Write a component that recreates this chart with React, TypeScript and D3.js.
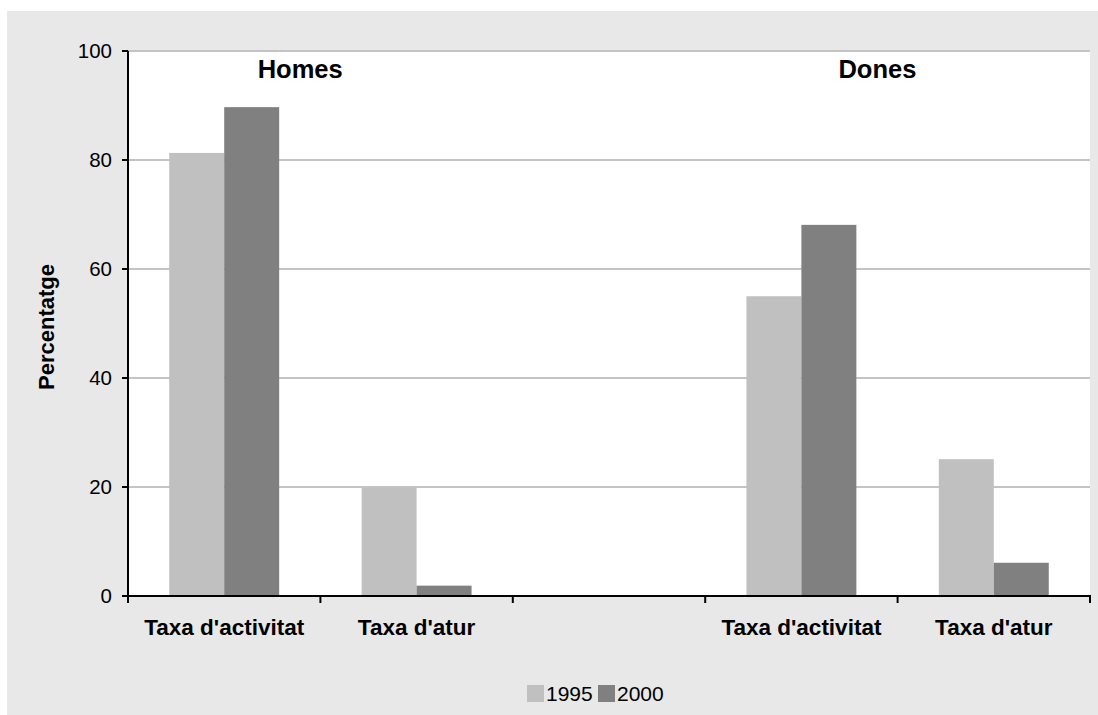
import React from "react";
import * as d3 from "d3";

const categoryKeys = ["h-act", "h-atur", "gap", "d-act", "d-atur"];
const categoryLabels = ["Taxa d'activitat", "Taxa d'atur", "", "Taxa d'activitat", "Taxa d'atur"];
const seriesNames = ["1995", "2000"];
const values1995 = [81.3, 19.9, null, 55.0, 25.1];
const values2000 = [89.7, 1.9, null, 68.1, 6.1];
const seriesColors = ["#c0c0c0", "#808080"];
const yTicks = [0, 20, 40, 60, 80, 100];
const groupLabels = [
  { text: "Homes", category: "h-act" },
  { text: "Dones", category: "d-act" },
];

const W = 1098;
const H = 715;
const plot = { left: 128, right: 1090, top: 51, bottom: 596 };
const FONT = "'Liberation Sans', Arial, sans-serif";

export default function App() {
  const x = d3.scaleBand<string>().domain(categoryKeys).range([plot.left, plot.right]).padding(0);
  const xs = d3.scaleBand<string>().domain(seriesNames).range([0, x.step()]).paddingInner(0).paddingOuter(0.75);
  const y = d3.scaleLinear().domain([0, 100]).range([plot.bottom, plot.top]);
  const series = [values1995, values2000];
  const tickEdges = categoryKeys.map((k) => x(k) as number).concat([plot.right]);

  return (
    <div style={{ position: "absolute", left: 0, top: 0 }}>
      <svg width={W} height={H} style={{ display: "block" }} fontFamily={FONT}>
        <rect x={7} y={11} width={W - 7} height={H - 11} fill="#e8e8e8" />
        <rect x={plot.left} y={plot.top} width={plot.right - plot.left} height={plot.bottom - plot.top} fill="#ffffff" />
        {yTicks.filter((t) => t > 0).map((t) => (
          <line key={"g" + t} x1={plot.left} x2={plot.right} y1={y(t)} y2={y(t)} stroke="#c4c4c4" strokeWidth={2} />
        ))}
        {series.map((vals, si) =>
          vals.map((v, ci) =>
            v == null ? null : (
              <rect
                key={si + "-" + ci}
                x={(x(categoryKeys[ci]) as number) + (xs(seriesNames[si]) as number)}
                y={y(v)}
                width={xs.bandwidth()}
                height={y(0) - y(v)}
                fill={seriesColors[si]}
              />
            )
          )
        )}
        {/* y axis */}
        <line x1={plot.left} x2={plot.left} y1={plot.top} y2={plot.bottom + 1} stroke="#000" strokeWidth={2} />
        {yTicks.map((t) => (
          <g key={"t" + t}>
            <line x1={plot.left - 6} x2={plot.left} y1={y(t)} y2={y(t)} stroke="#000" strokeWidth={2} />
            <text x={plot.left - 16} y={y(t)} dy="0.36em" textAnchor="end" fontSize={20.5} fill="#000">
              {t}
            </text>
          </g>
        ))}
        {/* x axis */}
        <line x1={plot.left - 6} x2={plot.right + 1} y1={y(0)} y2={y(0)} stroke="#000" strokeWidth={2} />
        {tickEdges.map((e, i) => (
          <line key={"xt" + i} x1={e} x2={e} y1={y(0)} y2={y(0) + 7} stroke="#000" strokeWidth={2} />
        ))}
        {categoryKeys.map((k, i) => (
          <text key={"xl" + k} x={(x(k) as number) + x.bandwidth() / 2} y={635} textAnchor="middle" fontSize={22.5} fontWeight="bold" fill="#000">
            {categoryLabels[i]}
          </text>
        ))}
        {groupLabels.map((g) => (
          <text key={g.text} x={(x(g.category) as number) + x.step() * 0.895} y={78} textAnchor="middle" fontSize={25.5} fontWeight="bold" fill="#000">
            {g.text}
          </text>
        ))}
        <text transform={`translate(54,327) rotate(-90)`} textAnchor="middle" fontSize={22} fontWeight="bold" fill="#000">
          Percentatge
        </text>
        {/* legend */}
        {seriesNames.map((s, i) => (
          <g key={"lg" + s} transform={`translate(${527 + i * 71},685)`}>
            <rect x={0} y={0} width={17} height={17} fill={seriesColors[i]} />
            <text x={19} y={16} fontSize={21} fill="#000">
              {s}
            </text>
          </g>
        ))}
      </svg>
    </div>
  );
}
